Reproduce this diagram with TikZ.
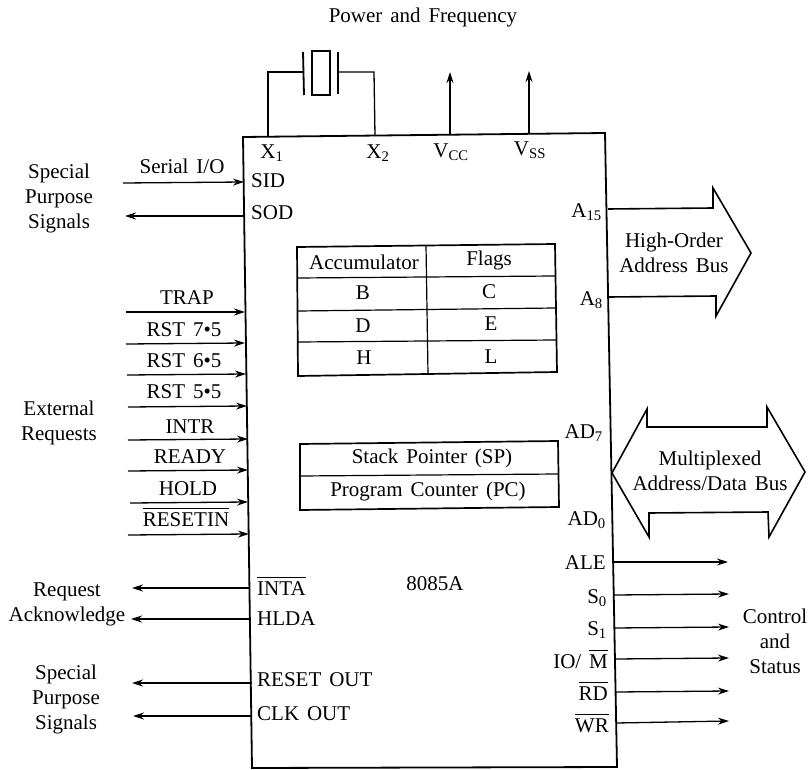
\documentclass[tikz,border=0pt]{standalone}
\usepackage{fontspec}
\setmainfont[WordSpace=1.5]{Liberation Serif}
\usetikzlibrary{arrows.meta}
\newcommand{\ovl}[1]{$\overline{\mbox{\rule{0pt}{0.82em}#1}}$}
\newcommand{\sbs}[1]{\textsubscript{#1}}
\tikzset{
  lbl/.style={inner sep=0pt,font=\fontsize{21}{25}\selectfont,align=center},
  wire/.style={line width=1.3pt},
  sig/.style={line width=1.3pt,-{Stealth[length=11pt,width=7pt]}},
  outline/.style={line width=1.8pt,line join=miter},
  tab/.style={line width=1.7pt,line join=miter},
  bus/.style={line width=1.6pt,line join=miter},
  cell/.style={line width=1.2pt}
}
\begin{document}
\begin{tikzpicture}[x=1pt,y=-1pt]
\useasboundingbox (0,0) rectangle (809,770);
% chip outline
\coordinate (tl) at (243,137); \coordinate (tr) at (605,133);
\coordinate (br) at (617,767); \coordinate (bl) at (252,768);
\draw[outline] (tl)--(tr)--(br)--(bl)--cycle;
% crystal
\coordinate (x1) at (268,137); \coordinate (x2) at (375,136);
\coordinate (pl) at (303,72); \coordinate (pr) at (338,72);
\coordinate (pl1) at (303,52); \coordinate (pl2) at (304,95);
\coordinate (pr1) at (338,52); \coordinate (pr2) at (338,94);
\draw[wire] (x1)--(268,72)--(pl);
\draw[wire] (pr)--(374,72)--(x2);
\draw[line width=1.8pt] (pl1)--(pl2);
\draw[line width=1.8pt] (pr1)--(pr2);
\draw[line width=1.6pt] (312,51) rectangle (330,95);
% VCC VSS
\coordinate (vcc) at (450,135); \coordinate (vcct) at (450,72);
\coordinate (vss) at (529,133); \coordinate (vsst) at (529,71);
\draw[sig] (vcc)--(vcct);
\draw[sig] (vss)--(vsst);
% register table
\draw[tab] (297,247)--(555,244)--(557,372)--(298,376)--cycle;
\draw[cell] (297.5,278)--(555,276);
\draw[cell] (298,311)--(555.5,308);
\draw[cell] (298,342)--(556,340);
\draw[cell] (426,245)--(428,374);
% pointer table
\draw[tab] (300,444)--(558,441)--(559,507)--(300,510)--cycle;
\draw[cell] (300,476)--(558,474);
% buses
\draw[bus] (608,209)--(713,208)--(713,188)--(751,253)--(716,316)--(716,296)--(609,297);
\draw[bus] (612,473)--(647,409)--(647,427)--(767,427)--(767,407)--(805,472)--(769,537)--(768,512)--(649,513)--(649,537)--cycle;
% left inputs
\foreach \n/\xa/\ya/\xb/\yb in {sid/123/183/244/182,trap/126/312/245/312,r7/126/344/245/343,r6/127/375/246/374,r5/128/407/247/406,intr/128/440/248/439,ready/128/471/248/470,hold/130/503/248/502,rin/128/535/249/534}{
  \coordinate (\n a) at (\xa,\ya); \coordinate (\n b) at (\xb,\yb);
  \draw[sig] (\n a)--(\n b);
}
% left outputs
\foreach \n/\xa/\ya/\xb/\yb in {sod/244/216/125/216,inta/250/588/132/588,hlda/251/619/131/619,rout/252/683/132/683,clk/252/716/133/716}{
  \coordinate (\n a) at (\xa,\ya); \coordinate (\n b) at (\xb,\yb);
  \draw[sig] (\n a)--(\n b);
}
% right outputs
\foreach \n/\xa/\ya/\xb/\yb in {ale/613/562/728/562,sz/614/595/729/594,so/614/628/729/627,iom/615/659/729/658,rd/616/692/729/691,wr/616/723/729/721}{
  \coordinate (\n a) at (\xa,\ya); \coordinate (\n b) at (\xb,\yb);
  \draw[sig] (\n a)--(\n b);
}
% texts
\node[lbl] (tpf) at (423,17) {Power and Frequency};
\node[lbl] (tx1) at (272,153) {X\sbs{1}};
\node[lbl] (tx2) at (378,153) {X\sbs{2}};
\node[lbl] (tvc) at (451,152) {V\sbs{CC}};
\node[lbl] (tvs) at (530,150) {V\sbs{SS}};
\node[lbl,anchor=west] (tsid) at (251,181) {SID};
\node[lbl,anchor=west] (tsod) at (251,213) {SOD};
\node[lbl] (tser) at (182,166) {Serial I/O};
\node[lbl] (tsp1) at (59,198) {Special\\Purpose\\Signals};
\node[lbl] (ttrap) at (187,298) {TRAP};
\node[lbl] (tr7) at (184,330) {RST 7•5};
\node[lbl] (tr6) at (184,361) {RST 6•5};
\node[lbl] (tr5) at (184,392) {RST 5•5};
\node[lbl] (tintr) at (190,427) {INTR};
\node[lbl] (tready) at (190,457) {READY};
\node[lbl] (thold) at (188,489) {HOLD};
\node[lbl] (trin) at (186,517) {\ovl{RESETIN}};
\node[lbl] (text) at (59,423) {External\\Requests};
\node[lbl,anchor=west] (tinta) at (257,586) {\ovl{INTA}};
\node[lbl,anchor=west] (thlda) at (257,619) {HLDA};
\node[lbl,anchor=west] (trout) at (257,680) {RESET OUT};
\node[lbl,anchor=west] (tclk) at (257,714) {CLK OUT};
\node[lbl] (treq) at (67,604) {Request\\Acknowledge};
\node[lbl] (tsp2) at (66,699) {Special\\Purpose\\Signals};
\node[lbl] (tname) at (435,584) {8085A};
\node[lbl] (tacc) at (364,262) {Accumulator};
\node[lbl] (tfl) at (489,260) {Flags};
\node[lbl] (tb) at (363,293) {B};
\node[lbl] (tc) at (489,292) {C};
\node[lbl] (td) at (363,326) {D};
\node[lbl] (te) at (491,324) {E};
\node[lbl] (th) at (364,358) {H};
\node[lbl] (tl2) at (491,357) {L};
\node[lbl] (tsp) at (432,458) {Stack Pointer (SP)};
\node[lbl] (tpc) at (428,491) {Program Counter (PC)};
\node[lbl,anchor=east] (ta15) at (602,212) {A\sbs{15}};
\node[lbl,anchor=east] (ta8) at (603,300) {A\sbs{8}};
\node[lbl,anchor=east] (tad7) at (603,433) {AD\sbs{7}};
\node[lbl,anchor=east] (tad0) at (606,520) {AD\sbs{0}};
\node[lbl] (thi) at (674,253) {High-Order\\Address Bus};
\node[lbl] (tmu) at (710,471) {Multiplexed\\Address/Data Bus};
\node[lbl,anchor=east] (tale) at (606,563) {ALE};
\node[lbl,anchor=east] (ts0) at (607,598) {S\sbs{0}};
\node[lbl,anchor=east] (ts1) at (607,630) {S\sbs{1}};
\node[lbl,anchor=east] (tio) at (608,659) {IO/ \ovl{M}};
\node[lbl,anchor=east] (trd) at (608,691) {\ovl{RD}};
\node[lbl,anchor=east] (twr) at (609,723) {\ovl{WR}};
\node[lbl] (tcs) at (775,641) {Control\\and\\Status};
\end{tikzpicture}
\end{document}
